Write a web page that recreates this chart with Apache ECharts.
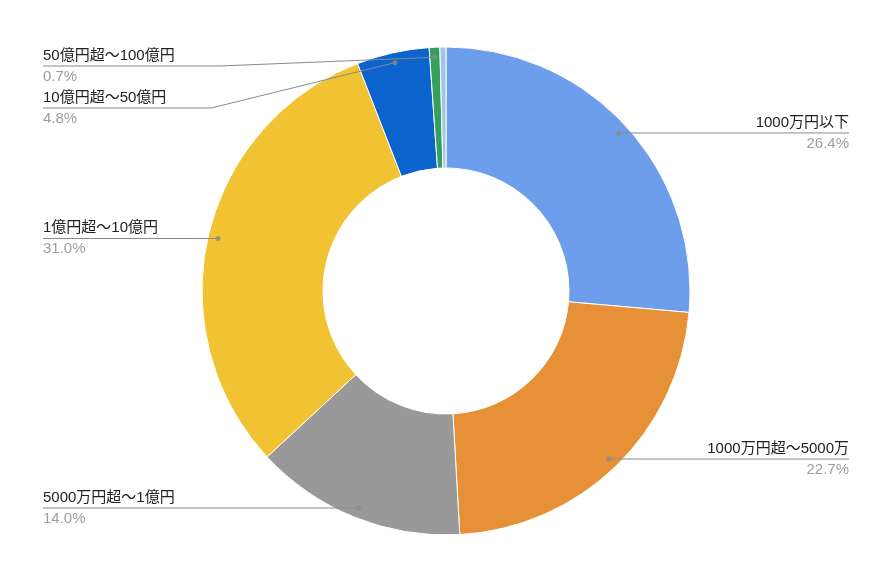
<!DOCTYPE html>
<html>
<head>
<meta charset="utf-8">
<script src="https://cdn.jsdelivr.net/npm/echarts@6/dist/echarts.min.js"></script>
<style>
  html, body { margin: 0; padding: 0; background: #fff; }
  #main { width: 892px; height: 564px; }
</style>
</head>
<body>
<div id="main"></div>
<script>
// 区分
var categories = ['1000万円以下', '1000万円超～5000万', '5000万円超～1億円', '1億円超～10億円', '10億円超～50億円', '50億円超～100億円', '100億円超'];
// 割合(%)
var shares = [26.4, 22.7, 14.0, 31.0, 4.8, 0.7, 0.4];
var colors = ['#6d9eeb', '#e69138', '#999999', '#f1c232', '#0b63ce', '#34a05c', '#9fc5e8'];
// ラベルなしの項目
var hiddenLabels = ['100億円超'];

var CX = 446, CY = 291, R_IN = 123, R_OUT = 244, R_DOT = 234;
var TOP = 45; // ラベルの上限
var FONT = "Arial, 'Liberation Sans', 'Noto Sans CJK JP', sans-serif";

var myChart = echarts.init(document.getElementById('main'));

// 色付きの扇形
var pieData = categories.map(function (name, i) {
  return { name: name, value: shares[i], itemStyle: { color: colors[i] } };
});
// ラベル用（透明な扇形、線を扇形の上に描くため）
var labelData = categories.map(function (name, i) {
  var item = { name: name, value: shares[i] };
  if (hiddenLabels.indexOf(name) >= 0) {
    item.label = { show: false };
    item.labelLine = { show: false };
  }
  return item;
});

// ラベル線の起点の点（扇形の中央角）
var dots = [];
var acc = 0;
for (var i = 0; i < shares.length; i++) {
  if (hiddenLabels.indexOf(categories[i]) < 0) {
    dots.push([R_DOT, acc + shares[i] / 2]);
  }
  acc += shares[i];
}

var option = {
  backgroundColor: '#fff',
  animation: false,
  polar: { center: [CX, CY], radius: R_OUT },
  angleAxis: { type: 'value', min: 0, max: acc, startAngle: 90, show: false },
  radiusAxis: { type: 'value', min: 0, max: R_OUT, show: false },
  series: [
    {
      type: 'pie',
      silent: true,
      top: TOP,
      bottom: 0,
      center: [CX, CY - TOP],
      radius: [R_IN, R_OUT],
      startAngle: 90,
      data: pieData,
      itemStyle: { borderColor: '#fff', borderWidth: 1 },
      label: { show: false },
      labelLine: { show: false },
      z: 2
    },
    {
      type: 'pie',
      silent: true,
      top: TOP,
      bottom: 0,
      center: [CX, CY - TOP],
      radius: [R_IN, R_OUT],
      startAngle: 90,
      data: labelData,
      itemStyle: { color: 'rgba(0,0,0,0)', borderWidth: 0 },
      z: 3,
      label: {
        alignTo: 'edge',
        edgeDistance: 43,
        minMargin: 0,
        lineHeight: 21,
        opacity: 1,
        fontFamily: FONT,
        formatter: function (p) {
          return '{name|' + p.name + '}\n{pct|' + p.value.toFixed(1) + '%}';
        },
        rich: {
          name: { color: '#222', fontSize: 15, fontFamily: FONT, lineHeight: 21 },
          pct: { color: '#9e9e9e', fontSize: 15, fontFamily: FONT, lineHeight: 21 }
        }
      },
      labelLine: {
        show: true,
        length: -10,
        length2: 0,
        lineStyle: { color: '#8a8a8a', width: 1, opacity: 1 }
      },
      labelLayout: function (params) {
        var pts = params.labelLinePoints;
        if (!pts) return;
        var rect = params.labelRect;
        var k = R_DOT / R_OUT;
        var p0 = pts[0];
        var dot = [CX + (p0[0] - CX) * k, CY + (p0[1] - CY) * k];
        var isLeft = rect.x + rect.width / 2 < CX;
        var y = rect.y + rect.height / 2;
        var farX = isLeft ? rect.x : rect.x + rect.width;
        var nearX = isLeft ? rect.x + rect.width : rect.x;
        if (Math.abs(y - dot[1]) < 7) {
          // ほぼ水平ならそのまま水平に
          return { y: dot[1], labelLinePoints: [dot, [nearX, dot[1]], [farX, dot[1]]] };
        }
        var knee = [nearX + (isLeft ? 45 : -45), y];
        return { labelLinePoints: [dot, knee, [farX, y]] };
      }
    },
    {
      type: 'scatter',
      coordinateSystem: 'polar',
      silent: true,
      symbolSize: 5,
      itemStyle: { color: '#8a8a8a' },
      data: dots,
      z: 5
    }
  ]
};

myChart.setOption(option);
</script>
</body>
</html>
